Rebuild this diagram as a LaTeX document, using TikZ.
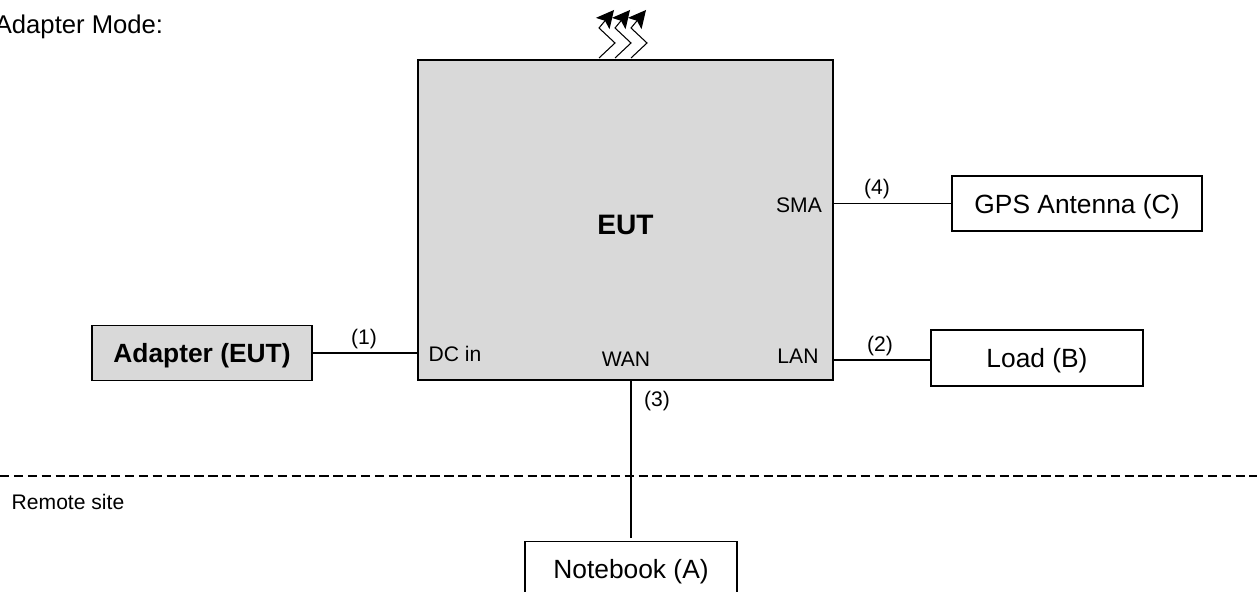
\documentclass[tikz,border=0pt]{standalone}
\usepackage{fontspec}
\setmainfont{Liberation Sans}
\usetikzlibrary{arrows.meta,positioning}
\tikzset{
  unit/.style={draw,line width=0.8pt,inner sep=0pt,text depth=0pt},
  port/.style={font=\fontsize{12}{14}\selectfont,inner sep=0pt},
  wire/.style={line width=0.8pt},
  wave/.style={line width=0.6pt,-{Stealth[length=10pt,width=10pt,inset=2pt]}}
}
\begin{document}
\begin{tikzpicture}[font=\fontsize{15}{18}\selectfont]
  \useasboundingbox (0,0) rectangle (25.14,11.84);
  \path (12.51,7.44) node[unit,fill=black!15,minimum width=8.3cm,minimum height=6.4cm] (eut) {}
        (12.51,7.34) node[font=\fontsize{16}{19}\selectfont] (euttext) {\bfseries EUT}
        (4.04,4.78) node[unit,fill=black!15,minimum width=4.4cm,minimum height=1.1cm] (adapter) {\bfseries Adapter (EUT)}
        (21.54,7.77) node[unit,minimum width=5.0cm,minimum height=1.1cm] (gps) {GPS Antenna (C)}
        (20.74,4.68) node[unit,minimum width=4.24cm,minimum height=1.12cm] (load) {Load (B)}
        (12.62,0.46) node[unit,minimum width=4.24cm,minimum height=1.1cm] (notebook) {Notebook (A)}
        (3.27,11.30) node[anchor=east,inner sep=0pt,font=\fontsize{14.6}{18}\selectfont] (mode) {Adapter Mode:};
  \path (9.10,4.76) node[port] (dcin) {DC in}
        (12.52,4.66) node[port] (wan) {WAN}
        (15.96,4.72) node[port] (lan) {LAN}
        (15.98,7.74) node[port] (sma) {SMA}
        (7.28,5.06) node[port] (one) {(1)}
        (17.60,4.92) node[port] (two) {(2)}
        (13.14,3.82) node[port] (three) {(3)}
        (17.54,8.06) node[port] (four) {(4)}
        (1.36,1.80) node[port] (remote) {Remote site};
  \coordinate (dashl) at (0,2.32);
  \coordinate (dashr) at (25.14,2.32);
  \coordinate (loadend) at (20.74,4.64);
  \draw[wire] (adapter.east) to (adapter.east -| eut.west);
  \draw[wire] (load.west |- loadend) to (loadend -| eut.east);
  \draw[wire] (gps.west) to (gps.west -| eut.east);
  \draw[wire,shorten <=1.5pt,xshift=0.5pt] (notebook.north) to (notebook.north |- eut.south);
  \draw[line width=0.7pt,dash pattern=on 5.3pt off 2.6pt] (dashl) to (dashr);
  \foreach \i in {0,1,2} {
    \coordinate (wavebase\i) at ({11.98+0.32*\i},10.68);
    \draw[wave] (wavebase\i) -- ++(0.32,0.30) -- ++(-0.32,0.30) -- ++(0.30,0.36);
  }
\end{tikzpicture}
\end{document}
